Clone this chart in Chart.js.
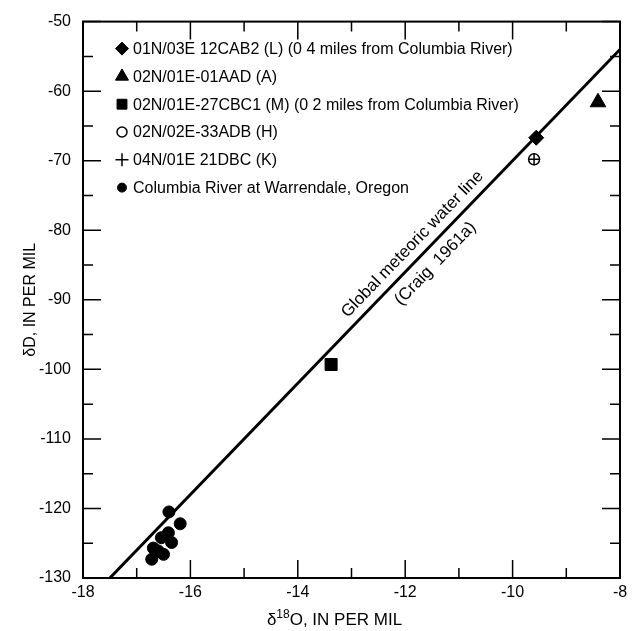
<!DOCTYPE html>
<html>
<head>
<meta charset="utf-8">
<script src="https://cdn.jsdelivr.net/npm/chart.js@4"></script>
<style>
  html, body { margin: 0; padding: 0; background: #fff; }
</style>
</head>
<body>
<canvas id="chart" width="642" height="631"></canvas>
<script>
// axes
const xTickLabels = [-18, -16, -14, -12, -10, -8];
const xMinorTicks = [-17, -15, -13, -11, -9];
const yTickLabels = [-130, -120, -110, -100, -90, -80, -70, -60, -50];
const yMinorTicks = [-125, -115, -105, -95, -85, -75, -65, -55];

// wells
const wellL_x = [-9.56];   const wellL_y = [-66.7];
const wellA_x = [-8.41];   const wellA_y = [-61.6];
const wellM_x = [-13.38];  const wellM_y = [-99.3];
const wellH_x = [-9.6];    const wellH_y = [-69.8];
const wellK_x = [-9.6];    const wellK_y = [-69.8];

// Columbia River samples
const river_x = [-16.40, -16.19, -16.41, -16.54, -16.35, -16.69, -16.60, -16.50, -16.72];
const river_y = [-120.5, -122.2, -123.5, -124.2, -124.9, -125.7, -126.1, -126.6, -127.3];

// global meteoric water line (Craig 1961a), end points
const gmwl_x = [-17.5, -8];
const gmwl_y = [-130, -54];

const pts = (xs, ys) => xs.map((x, i) => ({ x, y: ys[i] }));
const FONT = "'Liberation Sans', Arial, Helvetica, sans-serif";
const INK = "#000";

const datasets = [
    { label: "01N/03E 12CAB2 (L) (0 4 miles from Columbia River)", data: pts(wellL_x, wellL_y),
      pointStyle: "rectRot", pointRadius: 7.5, legendRadius: 6.5, backgroundColor: INK, borderColor: INK, borderWidth: 1 },
    { label: "02N/01E-01AAD (A)", data: pts(wellA_x, wellA_y),
      pointStyle: "triangle", pointRadius: 9, legendRadius: 7.5, backgroundColor: INK, borderColor: INK, borderWidth: 1 },
    { label: "02N/01E-27CBC1 (M) (0 2 miles from Columbia River)", data: pts(wellM_x, wellM_y),
      pointStyle: "rect", pointRadius: 8.5, legendRadius: 7, backgroundColor: INK, borderColor: INK, borderWidth: 1 },
    { label: "02N/02E-33ADB (H)", data: pts(wellH_x, wellH_y),
      pointStyle: "circle", pointRadius: 5.5, legendRadius: 5, backgroundColor: "#fff", borderColor: INK, borderWidth: 1.5 },
    { label: "04N/01E 21DBC (K)", data: pts(wellK_x, wellK_y), order: -1,
      pointStyle: "cross", pointRadius: 6, legendRadius: 6.5, backgroundColor: INK, borderColor: INK, borderWidth: 1.5 },
    { label: "Columbia River at Warrendale, Oregon", data: pts(river_x, river_y),
      pointStyle: "circle", pointRadius: 6, legendRadius: 4.5, backgroundColor: INK, borderColor: INK, borderWidth: 1 },
    { label: "gmwl", type: "line", data: pts(gmwl_x, gmwl_y), showLine: true,
      borderColor: INK, borderWidth: 3, pointRadius: 0, fill: false, order: 10 }
];

// frame + inward ticks on all four sides
const framePlugin = {
    id: "frame",
    afterDraw(chart) {
        const { ctx, chartArea: a, scales: { x, y } } = chart;
        ctx.save();
        ctx.strokeStyle = INK;
        ctx.lineWidth = 2;
        ctx.strokeRect(a.left, a.top, a.right - a.left, a.bottom - a.top);
        ctx.lineWidth = 1.5;
        ctx.beginPath();
        const xt = (v, len) => {
            const px = x.getPixelForValue(v);
            ctx.moveTo(px, a.bottom); ctx.lineTo(px, a.bottom - len);
            ctx.moveTo(px, a.top); ctx.lineTo(px, a.top + len);
        };
        const yt = (v, len) => {
            const py = y.getPixelForValue(v);
            ctx.moveTo(a.left, py); ctx.lineTo(a.left + len, py);
            ctx.moveTo(a.right, py); ctx.lineTo(a.right - len, py);
        };
        xTickLabels.forEach(v => xt(v, 18));
        xMinorTicks.forEach(v => xt(v, 10));
        yTickLabels.forEach(v => yt(v, 18));
        yMinorTicks.forEach(v => yt(v, 10));
        ctx.stroke();

        // x axis title with a real superscript
        const cx = (a.left + a.right) / 2 - 17, cy = 620;
        ctx.fillStyle = INK;
        ctx.textBaseline = "middle";
        const big = "17px " + FONT, small = "12px " + FONT;
        ctx.font = big;
        const w1 = ctx.measureText("δ").width, w3 = ctx.measureText("O, IN PER MIL").width;
        ctx.font = small;
        const w2 = ctx.measureText("18").width;
        let sx = cx - (w1 + w2 + w3) / 2;
        ctx.font = big; ctx.fillText("δ", sx, cy); sx += w1;
        ctx.font = small; ctx.fillText("18", sx, cy - 5); sx += w2;
        ctx.font = big; ctx.fillText("O, IN PER MIL", sx, cy);
        ctx.restore();
    }
};

// legend in the upper left of the plot
const boxLegend = {
    id: "boxLegend",
    afterDraw(chart) {
        const { ctx, chartArea: a } = chart;
        ctx.save();
        ctx.font = "16px " + FONT;
        ctx.textBaseline = "middle";
        chart.data.datasets.filter(d => d.label !== "gmwl").forEach((d, i) => {
            const mx = a.left + 39, my = a.top + 27 + i * 27.8;
            ctx.fillStyle = d.backgroundColor;
            ctx.strokeStyle = d.borderColor;
            ctx.lineWidth = d.borderWidth;
            Chart.helpers.drawPoint(ctx, { pointStyle: d.pointStyle, radius: d.legendRadius, rotation: 0, borderWidth: d.borderWidth }, mx, my);
            ctx.fillStyle = INK;
            ctx.fillText(d.label, a.left + 50, my + 1);
        });
        ctx.restore();
    }
};

// rotated label along the meteoric water line
const lineLabel = {
    id: "lineLabel",
    afterDraw(chart) {
        const { ctx, scales: { x, y } } = chart;
        const x0 = x.getPixelForValue(gmwl_x[0]), y0 = y.getPixelForValue(gmwl_y[0]);
        const x1 = x.getPixelForValue(gmwl_x[1]), y1 = y.getPixelForValue(gmwl_y[1]);
        const ang = Math.atan2(y1 - y0, x1 - x0);
        const t = 0.613;
        ctx.save();
        ctx.translate(x0 + (x1 - x0) * t, y0 + (y1 - y0) * t);
        ctx.rotate(ang);
        ctx.font = "17px " + FONT;
        ctx.fillStyle = INK;
        ctx.textAlign = "center";
        ctx.textBaseline = "middle";
        ctx.fillText("Global meteoric water line", 0, -14);
        ctx.fillText("(Craig  1961a)", 2, 16);
        ctx.restore();
    }
};

const tickFont = { family: FONT, size: 16 };

new Chart(document.getElementById("chart"), {
    type: "scatter",
    data: { datasets },
    options: {
        responsive: false,
        animation: false,
        layout: { padding: { top: 17, right: 22, left: 0, bottom: 0 } },
        plugins: { legend: { display: false }, tooltip: { enabled: false } },
        scales: {
            x: {
                type: "linear", min: -18, max: -8,
                grid: { display: false, drawTicks: false },
                border: { display: false },
                afterBuildTicks: s => { s.ticks = xTickLabels.map(v => ({ value: v })); },
                afterFit: s => { s.height = 53; },
                ticks: { padding: 5, color: INK, font: tickFont, maxRotation: 0, callback: v => String(v) },
                title: { display: false, text: "δ18O, IN PER MIL" }
            },
            y: {
                type: "linear", min: -130, max: -50,
                grid: { display: false, drawTicks: false },
                border: { display: false },
                afterBuildTicks: s => { s.ticks = yTickLabels.map(v => ({ value: v })); },
                afterFit: s => { s.width = 83; },
                ticks: { padding: 12, color: INK, font: tickFont, callback: v => String(v) },
                title: { display: true, text: "δD, IN PER MIL", color: INK, font: { family: FONT, size: 16 }, padding: { top: 21, bottom: 0 } }
            }
        }
    },
    plugins: [framePlugin, boxLegend, lineLabel]
});
</script>
</body>
</html>
